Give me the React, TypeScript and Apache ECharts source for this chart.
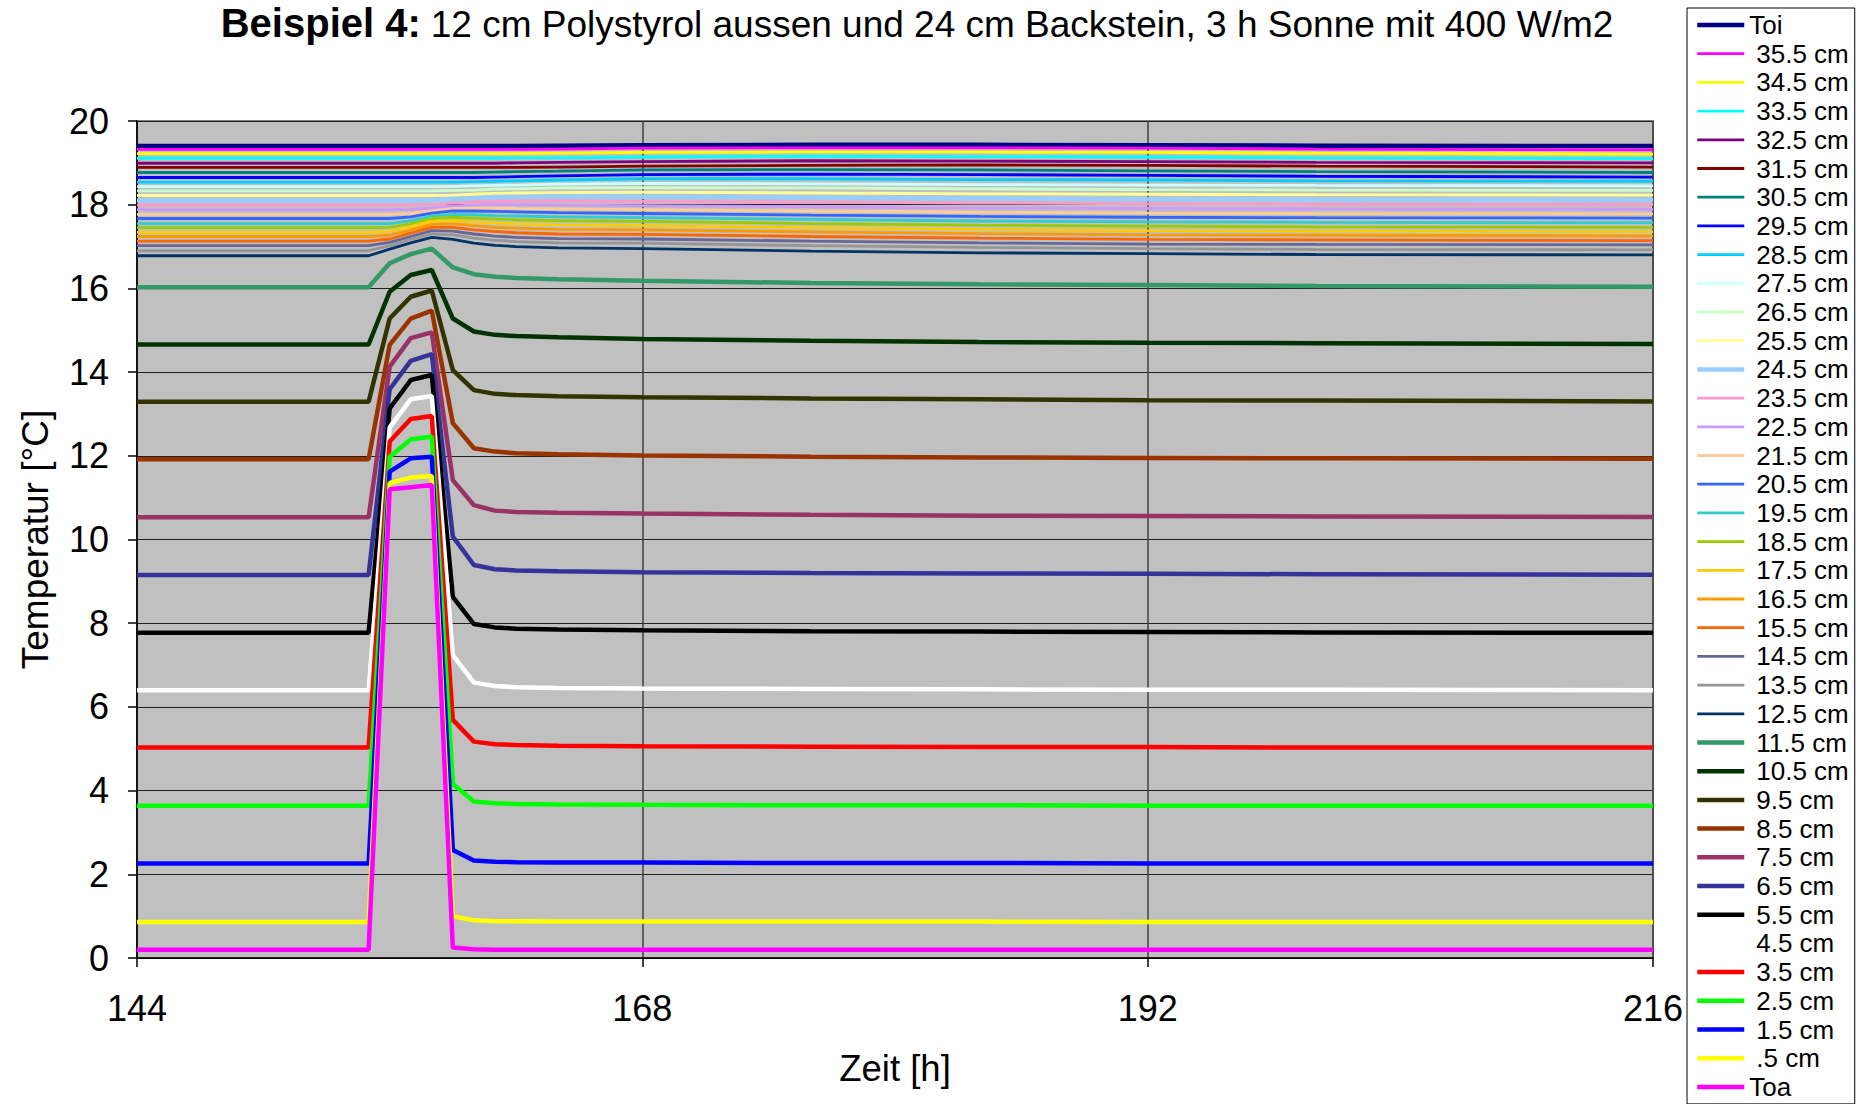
import React, { useEffect, useRef } from 'react';
import * as echarts from 'echarts';

// Hours (x values) at which the curves are sampled
const hours = [144, 155, 156, 157, 158, 159, 160, 161, 162, 164, 168, 176, 184, 192, 200, 216];

// Temperatures [°C] per layer
const toi = [19.40, 19.40, 19.40, 19.40, 19.40, 19.40, 19.40, 19.40, 19.40, 19.41, 19.42, 19.43, 19.43, 19.42, 19.41, 19.40];
const d355 = [19.32, 19.32, 19.32, 19.32, 19.32, 19.32, 19.32, 19.32, 19.32, 19.33, 19.35, 19.36, 19.36, 19.35, 19.33, 19.31];
const d345 = [19.22, 19.22, 19.22, 19.22, 19.22, 19.22, 19.22, 19.22, 19.22, 19.23, 19.25, 19.26, 19.26, 19.25, 19.23, 19.21];
const d335 = [19.11, 19.11, 19.11, 19.11, 19.11, 19.11, 19.11, 19.11, 19.12, 19.12, 19.14, 19.16, 19.15, 19.14, 19.12, 19.10];
const d325 = [18.99, 18.99, 18.99, 18.99, 18.99, 18.99, 18.99, 18.99, 19.00, 19.01, 19.03, 19.05, 19.04, 19.03, 19.01, 19.00];
const d315 = [18.89, 18.89, 18.89, 18.89, 18.89, 18.89, 18.89, 18.89, 18.89, 18.90, 18.92, 18.94, 18.95, 18.94, 18.92, 18.90];
const d305 = [18.77, 18.77, 18.77, 18.77, 18.77, 18.77, 18.77, 18.78, 18.79, 18.80, 18.83, 18.84, 18.83, 18.81, 18.79, 18.77];
const d295 = [18.65, 18.65, 18.65, 18.65, 18.65, 18.65, 18.65, 18.66, 18.67, 18.69, 18.72, 18.73, 18.72, 18.70, 18.68, 18.66];
const d285 = [18.54, 18.54, 18.54, 18.54, 18.54, 18.54, 18.55, 18.56, 18.57, 18.59, 18.62, 18.62, 18.60, 18.59, 18.57, 18.56];
const d275 = [18.43, 18.43, 18.43, 18.43, 18.43, 18.44, 18.45, 18.46, 18.47, 18.49, 18.51, 18.50, 18.48, 18.47, 18.46, 18.45];
const d265 = [18.33, 18.33, 18.33, 18.33, 18.33, 18.34, 18.35, 18.37, 18.38, 18.40, 18.41, 18.40, 18.38, 18.36, 18.35, 18.34];
const d255 = [18.22, 18.22, 18.22, 18.22, 18.22, 18.23, 18.25, 18.27, 18.28, 18.29, 18.30, 18.28, 18.26, 18.25, 18.24, 18.23];
const d245 = [18.10, 18.10, 18.10, 18.10, 18.11, 18.13, 18.15, 18.17, 18.18, 18.19, 18.19, 18.17, 18.15, 18.13, 18.12, 18.11];
const d235 = [17.99, 17.99, 17.99, 17.99, 18.01, 18.04, 18.07, 18.08, 18.09, 18.09, 18.08, 18.06, 18.04, 18.02, 18.01, 18.01];
const d225 = [17.88, 17.88, 17.88, 17.89, 17.92, 17.97, 17.99, 18.00, 18.00, 17.99, 17.98, 17.95, 17.92, 17.91, 17.90, 17.89];
const d215 = [17.77, 17.77, 17.77, 17.79, 17.85, 17.91, 17.92, 17.92, 17.91, 17.90, 17.88, 17.85, 17.82, 17.80, 17.79, 17.78];
const d205 = [17.67, 17.67, 17.67, 17.71, 17.80, 17.85, 17.85, 17.84, 17.83, 17.81, 17.79, 17.75, 17.72, 17.70, 17.69, 17.68];
const d195 = [17.55, 17.55, 17.55, 17.62, 17.73, 17.77, 17.76, 17.74, 17.73, 17.71, 17.69, 17.65, 17.61, 17.59, 17.58, 17.57];
const d185 = [17.45, 17.45, 17.46, 17.55, 17.67, 17.70, 17.68, 17.66, 17.64, 17.62, 17.60, 17.55, 17.51, 17.49, 17.47, 17.46];
const d175 = [17.34, 17.34, 17.36, 17.47, 17.60, 17.62, 17.59, 17.56, 17.54, 17.52, 17.50, 17.45, 17.41, 17.38, 17.37, 17.35];
const d165 = [17.24, 17.24, 17.27, 17.40, 17.53, 17.54, 17.50, 17.46, 17.44, 17.41, 17.40, 17.35, 17.31, 17.28, 17.27, 17.25];
const d155 = [17.13, 17.13, 17.18, 17.32, 17.46, 17.46, 17.40, 17.36, 17.33, 17.30, 17.29, 17.24, 17.20, 17.17, 17.16, 17.14];
const d145 = [17.02, 17.02, 17.10, 17.24, 17.38, 17.37, 17.30, 17.25, 17.22, 17.19, 17.18, 17.13, 17.09, 17.06, 17.05, 17.04];
const d135 = [16.90, 16.90, 17.02, 17.17, 17.30, 17.28, 17.20, 17.15, 17.12, 17.09, 17.08, 17.02, 16.98, 16.95, 16.93, 16.92];
const d125 = [16.78, 16.78, 16.94, 17.09, 17.22, 17.17, 17.08, 17.03, 17.00, 16.97, 16.95, 16.89, 16.85, 16.83, 16.81, 16.80];
const d115 = [16.03, 16.03, 16.60, 16.82, 16.95, 16.50, 16.34, 16.28, 16.25, 16.22, 16.18, 16.13, 16.10, 16.08, 16.06, 16.04];
const d105 = [14.66, 14.66, 15.92, 16.32, 16.44, 15.28, 14.97, 14.89, 14.86, 14.83, 14.79, 14.75, 14.72, 14.70, 14.69, 14.67];
const d95 = [13.29, 13.29, 15.28, 15.80, 15.95, 14.05, 13.57, 13.48, 13.45, 13.42, 13.40, 13.37, 13.35, 13.33, 13.32, 13.30];
const d85 = [11.92, 11.92, 14.65, 15.28, 15.47, 12.78, 12.18, 12.10, 12.06, 12.04, 12.01, 11.98, 11.96, 11.95, 11.94, 11.93];
const d75 = [10.53, 10.53, 14.13, 14.81, 14.95, 11.42, 10.82, 10.69, 10.66, 10.64, 10.62, 10.59, 10.57, 10.56, 10.55, 10.54];
const d65 = [9.15, 9.15, 13.59, 14.27, 14.43, 10.07, 9.39, 9.29, 9.26, 9.24, 9.22, 9.20, 9.19, 9.18, 9.17, 9.16];
const d55 = [7.77, 7.77, 13.13, 13.81, 13.93, 8.63, 7.98, 7.90, 7.87, 7.85, 7.83, 7.81, 7.80, 7.79, 7.78, 7.77];
const d45 = [6.40, 6.40, 12.68, 13.35, 13.43, 7.24, 6.58, 6.50, 6.47, 6.45, 6.44, 6.43, 6.42, 6.41, 6.41, 6.40];
const d35 = [5.03, 5.03, 12.34, 12.88, 12.95, 5.69, 5.17, 5.11, 5.09, 5.07, 5.06, 5.05, 5.04, 5.04, 5.03, 5.03];
const d25 = [3.64, 3.64, 11.98, 12.39, 12.46, 4.16, 3.74, 3.70, 3.68, 3.67, 3.66, 3.65, 3.65, 3.64, 3.64, 3.64];
const d15 = [2.26, 2.26, 11.62, 11.94, 11.98, 2.58, 2.33, 2.30, 2.29, 2.28, 2.28, 2.27, 2.27, 2.26, 2.26, 2.26];
const d05 = [0.86, 0.86, 11.35, 11.48, 11.52, 1.00, 0.90, 0.88, 0.88, 0.87, 0.87, 0.87, 0.87, 0.86, 0.86, 0.86];
const toa = [0.20, 0.20, 11.20, 11.25, 11.30, 0.25, 0.21, 0.20, 0.20, 0.20, 0.20, 0.20, 0.20, 0.20, 0.20, 0.20];

const seriesNames = [
  'Toi', '35.5 cm', '34.5 cm', '33.5 cm', '32.5 cm', '31.5 cm', '30.5 cm', '29.5 cm', '28.5 cm',
  '27.5 cm', '26.5 cm', '25.5 cm', '24.5 cm', '23.5 cm', '22.5 cm', '21.5 cm', '20.5 cm', '19.5 cm',
  '18.5 cm', '17.5 cm', '16.5 cm', '15.5 cm', '14.5 cm', '13.5 cm', '12.5 cm', '11.5 cm', '10.5 cm',
  '9.5 cm', '8.5 cm', '7.5 cm', '6.5 cm', '5.5 cm', '4.5 cm', '3.5 cm', '2.5 cm', '1.5 cm', '.5 cm', 'Toa',
];
const seriesValues = [
  toi, d355, d345, d335, d325, d315, d305, d295, d285, d275, d265, d255, d245, d235, d225, d215,
  d205, d195, d185, d175, d165, d155, d145, d135, d125, d115, d105, d95, d85, d75, d65, d55, d45,
  d35, d25, d15, d05, toa,
];

// Styles
const seriesColors = [
  '#000080', '#FF00FF', '#FFFF00', '#00FFFF', '#800080', '#800000', '#008080', '#0000FF', '#00CCFF',
  '#CCFFFF', '#CCFFCC', '#FFFF99', '#99CCFF', '#FF99CC', '#CC99FF', '#FFCC99', '#3366FF', '#33CCCC',
  '#99CC00', '#FFCC00', '#FF9900', '#FF6600', '#666699', '#969696', '#003366', '#339966', '#003300',
  '#333300', '#993300', '#993366', '#333399', '#000000', '#FFFFFF', '#FF0000', '#00FF00', '#0000FF',
  '#FFFF00', '#FF00FF',
];
const THICK = 4.5;
const THIN = 2.8;
const thickNames = new Set([
  'Toi', '24.5 cm', '11.5 cm', '10.5 cm', '9.5 cm', '8.5 cm', '7.5 cm', '6.5 cm', '5.5 cm', '4.5 cm',
  '3.5 cm', '2.5 cm', '1.5 cm', '.5 cm', 'Toa',
]);

const FONT = "'Liberation Sans', Arial, Helvetica, sans-serif";

export default function App() {
  const ref = useRef<HTMLDivElement>(null);
  useEffect(() => {
    const chart = echarts.init(ref.current as HTMLDivElement, null, { renderer: 'svg' });
    chart.setOption({
      animation: false,
      backgroundColor: '#ffffff',
      graphic: [
        {
          type: 'text',
          x: 917,
          y: 23,
          style: {
            text: '{b|Beispiel 4:}{n|12 cm Polystyrol aussen und 24 cm Backstein, 3 h Sonne mit 400 W/m2}',
            align: 'center',
            verticalAlign: 'middle',
            textAlign: 'center',
            textVerticalAlign: 'middle',
            rich: {
              b: { fontSize: 40, fontWeight: 'bold', fontFamily: FONT, fill: '#000', verticalAlign: 'bottom' },
              n: { fontSize: 37, fontFamily: FONT, fill: '#000', padding: [0, 0, 0, 10], verticalAlign: 'bottom' },
            },
          },
        },
      ],
      legend: {
        type: 'plain',
        orient: 'vertical',
        left: 1687,
        top: 8,
        height: 1200,
        padding: [4, 6, 4, 8],
        itemWidth: 47,
        itemHeight: 25,
        itemGap: 2.7,
        backgroundColor: '#ffffff',
        borderColor: '#000000',
        borderWidth: 1,
        borderRadius: 0,
        selectedMode: false,
        data: seriesNames,
        lineStyle: { width: 'inherit' },
        itemStyle: { opacity: 0 },
        formatter: (n: string) => (n.charAt(0) === 'T' ? `{q|${n}}` : `{p|${n}}`),
        textStyle: {
          fontSize: 26,
          fontFamily: FONT,
          color: '#000',
          lineHeight: 25,
          rich: {
            q: { fontSize: 26, fontFamily: FONT, color: '#000', lineHeight: 25 },
            p: { fontSize: 26, fontFamily: FONT, color: '#000', lineHeight: 25, padding: [0, 0, 0, 7] },
          },
        },
      },
      grid: {
        left: 137,
        right: 208,
        top: 121,
        bottom: 146,
        show: true,
        backgroundColor: '#C0C0C0',
        borderColor: '#808080',
        borderWidth: 2,
      },
      xAxis: {
        type: 'value',
        min: 144,
        max: 216,
        interval: 24,
        axisLine: { show: true, onZero: false, lineStyle: { color: '#000', width: 1.5 } },
        axisTick: { show: true, inside: false, length: 9, lineStyle: { color: '#000', width: 1.5 } },
        axisLabel: { fontSize: 36, fontFamily: FONT, color: '#000', margin: 32 },
        splitLine: { show: true, lineStyle: { color: '#404040', width: 1.5 } },
        name: 'Zeit [h]',
        nameLocation: 'middle',
        nameGap: 92,
        nameTextStyle: { fontSize: 36.5, fontFamily: FONT, color: '#000' },
      },
      yAxis: {
        type: 'value',
        min: 0,
        max: 20,
        interval: 2,
        axisLine: { show: true, onZero: false, lineStyle: { color: '#000', width: 1.5 } },
        axisTick: { show: true, inside: false, length: 9, lineStyle: { color: '#000', width: 1.5 } },
        axisLabel: { fontSize: 36, fontFamily: FONT, color: '#000', margin: 28 },
        splitLine: { show: true, lineStyle: { color: '#202020', width: 1 } },
        name: 'Temperatur [°C]',
        nameLocation: 'middle',
        nameGap: 83,
        nameTextStyle: { fontSize: 37, fontFamily: FONT, color: '#000' },
      },
      series: seriesNames.map((name, i) => ({
        type: 'line',
        name,
        data: hours.map((h, j) => [h, seriesValues[i][j]]),
        symbol: 'none',
        showSymbol: false,
        color: seriesColors[i],
        lineStyle: { color: seriesColors[i], width: thickNames.has(name) ? THICK : THIN },
        itemStyle: { color: seriesColors[i] },
      })),
    });
    return () => chart.dispose();
  }, []);
  return <div ref={ref} style={{ position: 'fixed', left: 0, top: 0, width: 1861, height: 1104 }} />;
}
